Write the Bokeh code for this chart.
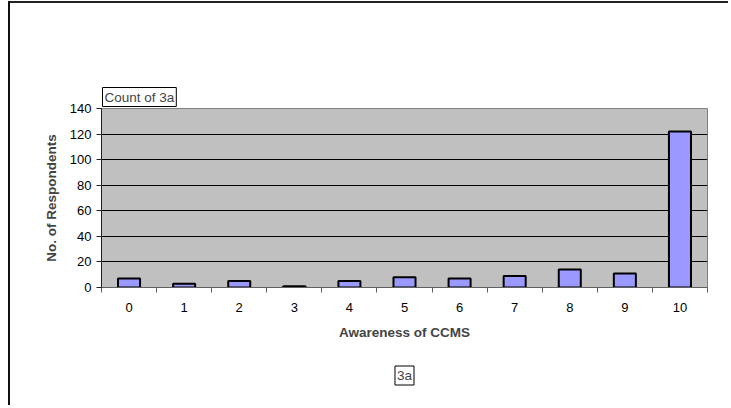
from bokeh.plotting import figure
from bokeh.models import Range1d, FixedTicker, Title, SingleIntervalTicker
from bokeh.embed import file_html
from bokeh.resources import INLINE

categories = ["0", "1", "2", "3", "4", "5", "6", "7", "8", "9", "10"]
counts = [7, 3, 5, 1, 5, 8, 7, 9, 14, 11, 122]
series_name = "Count of 3a"
field_name = "3a"
x_title = "Awareness of CCMS"
y_title = "No. of Respondents"

FONT = "Liberation Sans"

idx = list(range(len(categories)))

p = figure(width=720, height=404, output_backend="svg", toolbar_location=None,
           x_range=Range1d(-0.5, len(categories) - 0.5), y_range=Range1d(0, 140),
           min_border_left=91, min_border_right=23, min_border_top=105, min_border_bottom=120)
p.styles = {"border-left": "2px solid #111", "border-top": "2px solid #222",
            "margin-left": "8px", "margin-top": "1px"}

p.background_fill_color = "#c0c0c0"
p.border_fill_color = "white"
p.outline_line_color = "#808080"
p.outline_line_width = 1

p.vbar(x=idx, top=counts, width=0.4, bottom=0, fill_color="#9999ff",
       line_color="black", line_width=2)

# grid
p.xgrid.grid_line_color = None
p.ygrid.grid_line_color = "black"
p.ygrid.grid_line_width = 1
p.ygrid.ticker = SingleIntervalTicker(interval=20)

# y axis
p.yaxis.ticker = SingleIntervalTicker(interval=20)
p.yaxis.minor_tick_line_color = None
p.yaxis.major_tick_out = 5
p.yaxis.major_tick_in = 0
p.yaxis.axis_line_color = "#202020"
p.yaxis.major_tick_line_color = "#202020"
p.yaxis.major_label_text_font = FONT
p.yaxis.major_label_text_font_size = "13px"
p.yaxis.major_label_text_color = "black"
p.yaxis.major_label_standoff = 5
p.yaxis.axis_label = y_title
p.yaxis.axis_label_text_font = FONT
p.yaxis.axis_label_text_font_size = "13.5px"
p.yaxis.axis_label_text_font_style = "bold"
p.yaxis.axis_label_standoff = 8

# x axis
p.xaxis.ticker = FixedTicker(ticks=idx, minor_ticks=[i - 0.5 for i in range(len(categories) + 1)])
p.xaxis.major_label_overrides = {i: c for i, c in zip(idx, categories)}
p.xaxis.major_tick_out = 0
p.xaxis.major_tick_in = 0
p.xaxis.minor_tick_out = 5
p.xaxis.minor_tick_in = 0
p.xaxis.minor_tick_line_color = "#606060"
p.xaxis.axis_line_color = "#606060"
p.xaxis.major_label_text_font = FONT
p.xaxis.major_label_text_font_size = "13px"
p.xaxis.major_label_text_color = "black"
p.xaxis.major_label_standoff = 10
p.xaxis.axis_label = x_title
p.xaxis.axis_label_text_font = FONT
p.xaxis.axis_label_text_font_size = "13.5px"
p.xaxis.axis_label_text_font_style = "bold"
p.xaxis.axis_label_standoff = 10

t1 = Title(text=series_name, align="left", offset=1, standoff=4,
           text_font=FONT, text_font_size="13.5px", text_font_style="normal",
           border_line_color="black", background_fill_color="white", padding=2)
p.add_layout(t1, "above")
t2 = Title(text=field_name, align="center", standoff=43,
           text_font=FONT, text_font_size="13.5px", text_font_style="normal",
           border_line_color="black", background_fill_color="white", padding=2)
p.add_layout(t2, "below")

open("out.html", "w").write(file_html(p, INLINE))
